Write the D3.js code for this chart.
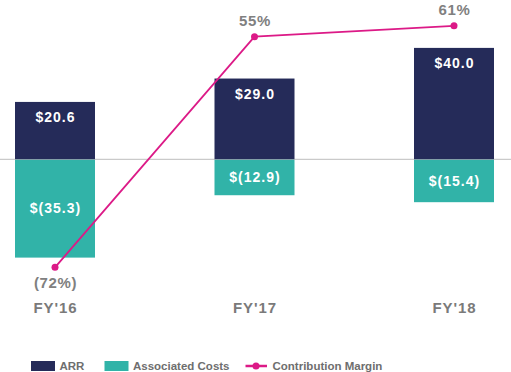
<!DOCTYPE html>
<html>
<head>
<meta charset="UTF-8">
<script src="https://d3js.org/d3.v7.min.js"></script>
<style>
  body { margin: 0; background: #fff; }
  svg { display: block; font-family: "Liberation Sans", Arial, sans-serif; font-weight: bold; }
</style>
</head>
<body>
<svg width="511" height="372"></svg>
<script>
const years = ["FY'16", "FY'17", "FY'18"];
const arr = [20.6, 29.0, 40.0];
const costs = [-35.3, -12.9, -15.4];
const margin = [-72, 55, 61];
const arrLabels = ["$20.6", "$29.0", "$40.0"];
const costLabels = ["$(35.3)", "$(12.9)", "$(15.4)"];
const marginLabels = ["(72%)", "55%", "61%"];

const navy = "#252b59", teal = "#31b3a8", pink = "#dc1a87";
const svg = d3.select("svg");

const x = d3.scalePoint().domain(years).range([55, 454]);
const y = d3.scaleLinear().domain([0, 40]).range([159.3, 47.9]);
const ym = d3.scaleLinear().domain([-72, 61]).range([267.3, 25.8]);
const bw = 80;

// zero line
svg.append("line")
  .attr("x1", 0).attr("x2", 511)
  .attr("y1", y(0)).attr("y2", y(0))
  .attr("stroke", "#bdbdbd").attr("stroke-width", 1);

// ARR bars
svg.selectAll(".arr").data(arr).join("rect")
  .attr("x", (d, i) => x(years[i]) - bw / 2)
  .attr("width", bw)
  .attr("y", d => y(d))
  .attr("height", d => y(0) - y(d))
  .attr("fill", navy);

// cost bars
svg.selectAll(".cost").data(costs).join("rect")
  .attr("x", (d, i) => x(years[i]) - bw / 2)
  .attr("width", bw)
  .attr("y", y(0) + 0.5)
  .attr("height", d => y(d) - y(0) - 0.5)
  .attr("fill", teal);

// bar labels
svg.selectAll(".arrLbl").data(arr).join("text")
  .attr("x", (d, i) => x(years[i]) + 0.5)
  .attr("y", d => y(d) + 20)
  .attr("text-anchor", "middle")
  .attr("fill", "#fff").attr("font-size", 14).attr("letter-spacing", 1)
  .text((d, i) => arrLabels[i]);

svg.selectAll(".costLbl").data(costs).join("text")
  .attr("x", (d, i) => x(years[i]) + 0.5)
  .attr("y", d => (y(0) + y(d)) / 2 + 5)
  .attr("text-anchor", "middle")
  .attr("fill", "#fff").attr("font-size", 14).attr("letter-spacing", 1)
  .text((d, i) => costLabels[i]);

// contribution margin line
const line = d3.line().x((d, i) => x(years[i])).y(d => ym(d));
svg.append("path")
  .attr("d", line(margin))
  .attr("fill", "none").attr("stroke", pink).attr("stroke-width", 1.8);

svg.selectAll(".dot").data(margin).join("circle")
  .attr("cx", (d, i) => x(years[i]))
  .attr("cy", d => ym(d))
  .attr("r", 3.5).attr("fill", pink);

svg.selectAll(".mLbl").data(margin).join("text")
  .attr("x", (d, i) => x(years[i]) + 0.5)
  .attr("y", d => d < 0 ? ym(d) + 21 : ym(d) - 11)
  .attr("text-anchor", "middle")
  .attr("fill", "#808080").attr("font-size", 15).attr("letter-spacing", 0.6)
  .text((d, i) => marginLabels[i]);

// category axis labels
svg.selectAll(".cat").data(years).join("text")
  .attr("x", d => x(d) + 0.5)
  .attr("y", 313)
  .attr("text-anchor", "middle")
  .attr("fill", "#7a7a7a").attr("font-size", 15).attr("letter-spacing", 0.9)
  .text(d => d);

// legend
const lg = svg.append("g").attr("font-size", 11.5).attr("fill", "#6e6e6e");
lg.append("rect").attr("x", 31).attr("y", 361).attr("width", 24).attr("height", 10).attr("fill", navy);
lg.append("text").attr("x", 59.5).attr("y", 370).text("ARR");
lg.append("rect").attr("x", 104.5).attr("y", 361).attr("width", 24).attr("height", 10).attr("fill", teal);
lg.append("text").attr("x", 133).attr("y", 370).text("Associated Costs");
lg.append("line").attr("x1", 245.5).attr("x2", 267).attr("y1", 366).attr("y2", 366)
  .attr("stroke", pink).attr("stroke-width", 2.5);
lg.append("circle").attr("cx", 256).attr("cy", 366).attr("r", 3.5).attr("fill", pink);
lg.append("text").attr("x", 272.5).attr("y", 370).text("Contribution Margin");
</script>
</body>
</html>
